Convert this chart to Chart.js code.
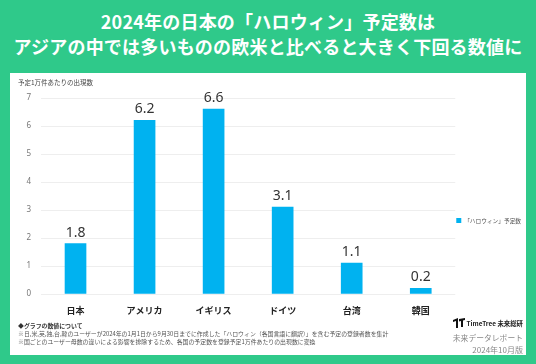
<!DOCTYPE html>
<html lang="ja">
<head>
<meta charset="utf-8">
<script src="https://cdn.jsdelivr.net/npm/chart.js@4/dist/chart.umd.min.js"></script>
<style>
  body { margin: 0; width: 536px; height: 364px; background: #2fc98a; overflow: hidden;
         font-family: "Noto Sans CJK JP", "Noto Sans", sans-serif; position: relative; }
  #title { position: absolute; left: 0; top: 9px; width: 536px; text-align: center; color: #fff;
           font-weight: bold; font-size: 18px; line-height: 25px; letter-spacing: 0.2px; }
  #panel { position: absolute; left: 10px; top: 73px; width: 516px; height: 282px; background: #fff; }
  #unit { position: absolute; left: 8px; top: 4px; font-size: 6.5px; color: #444; }
  #chartBox { position: absolute; left: 0; top: 0; width: 521px; height: 270px; }
  #notes { position: absolute; left: 8px; top: 249px; font-size: 5.9px; line-height: 8px; color: #555; }
  #notes b { color: #333; }
  #brand { position: absolute; right: 3px; top: 245px; text-align: right; color: #888; }
  #brand .logo { font-size: 6.4px; font-weight: bold; color: #222; line-height: 9px; }
  #brand .logo svg { vertical-align: -2px; margin-right: 2px; }
  #brand .rep { font-size: 7.8px; line-height: 13px; margin-top: 3px; }
  #brand .ver { font-size: 8px; line-height: 12px; }
</style>
</head>
<body>
<div id="title">2024年の日本の「ハロウィン」予定数は<br>アジアの中では多いものの欧米と比べると大きく下回る数値に</div>
<div id="panel">
  <div id="chartBox"><canvas id="canvasHalloween"></canvas></div>
  <div id="unit">予定1万件あたりの出現数</div>
  <div id="notes">
    <b>◆グラフの数値について</b><br>
    ※日,米,英,独,台,韓のユーザーが2024年の1月1日から9月30日までに作成した「ハロウィン（各国言語に翻訳）」を含む予定の登録者数を集計<br>
    ※国ごとのユーザー母数の違いによる影響を排除するため、各国の予定数を登録予定1万件あたりの出現数に変換
  </div>
  <div id="brand">
    <div class="logo"><svg width="12" height="10" viewBox="0 0 12 10"><path d="M0 2 L5 0 L5 10 L3 10 L3 3 L0 4 Z M6 1 L12 0 L12 2 L10 2.5 L10 9 L8 9 L8 3 L6 3.5 Z" fill="#111"/></svg>TimeTree 未来総研</div>
    <div class="rep">未来データレポート</div>
    <div class="ver">2024年10月版</div>
  </div>
</div>
<script>
const categories = ["日本", "アメリカ", "イギリス", "ドイツ", "台湾", "韓国"]
const halloweenCounts = [1.8, 6.2, 6.6, 3.1, 1.1, 0.2]
const seriesLabel = "「ハロウィン」予定数"
const yMin = 0
const yMax = 7
const yStep = 1

let canvasHalloween = document.getElementById("canvasHalloween")

// values above each bar, category names under the axis
const barTexts = {
    id: "barTexts",
    afterDatasetsDraw: chart => {
        const ctx = chart.ctx
        const xScale = chart.scales.x
        ctx.save()
        ctx.textAlign = "center"

        ctx.font = "14px 'Noto Sans', sans-serif"
        ctx.fillStyle = "#333"
        ctx.textBaseline = "bottom"
        chart.getDatasetMeta(0).data.forEach((bar, i) => {
            ctx.fillText(halloweenCounts[i].toFixed(1), bar.x, bar.y - 4)
        })

        ctx.font = "bold 9px 'Noto Sans CJK JP', sans-serif"
        ctx.fillStyle = "#222"
        ctx.textBaseline = "middle"
        categories.forEach((name, i) => {
            ctx.fillText(name, xScale.getPixelForValue(i), chart.chartArea.bottom + 17)
        })
        ctx.restore()
    }
}

new Chart(canvasHalloween, {
    type: "bar",
    data: {
        labels: categories,
        datasets: [{
            label: seriesLabel,
            data: halloweenCounts,
            backgroundColor: "#00b2f0",
            barThickness: 21
        }]
    },
    options: {
        responsive: true,
        maintainAspectRatio: false,
        animation: false,
        layout: { padding: { top: 25, left: 0, right: 0, bottom: 0 } },
        plugins: {
            legend: {
                position: "right",
                labels: {
                    boxWidth: 5,
                    boxHeight: 5,
                    padding: 1,
                    color: "#555",
                    font: { size: 5.7, family: "'Noto Sans CJK JP', sans-serif" }
                }
            },
            tooltip: { enabled: false }
        },
        scales: {
            x: {
                grid: { display: false },
                border: { display: false },
                ticks: { display: false },
                afterFit: scale => { scale.height = 49 }
            },
            y: {
                min: yMin,
                max: yMax,
                grid: { color: "#eeeeee", drawTicks: false },
                border: { display: false },
                ticks: {
                    stepSize: yStep,
                    padding: 10,
                    color: "#777",
                    font: { size: 8, family: "'Noto Sans', sans-serif" }
                },
                afterFit: scale => { scale.width = 31 }
            }
        }
    },
    plugins: [barTexts]
})
</script>
</body>
</html>
